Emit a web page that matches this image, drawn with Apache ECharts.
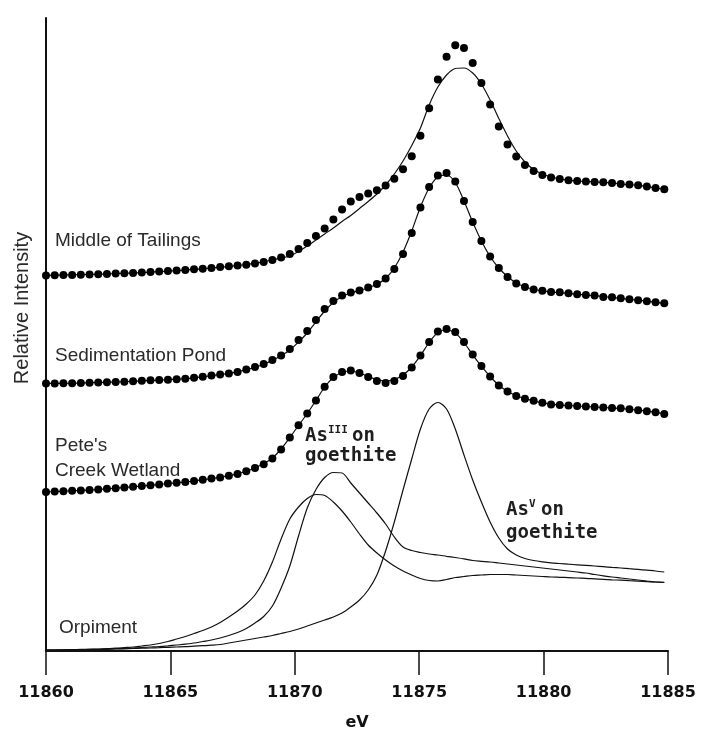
<!DOCTYPE html>
<html>
<head>
<meta charset="utf-8">
<script src="https://cdn.jsdelivr.net/npm/echarts@6/dist/echarts.min.js"></script>
<style>
  html, body { margin: 0; padding: 0; background: #fff; }
  #chart { width: 701px; height: 740px; }
</style>
</head>
<body>
<div id="chart"></div>
<script>
// Energy grid of the As K-edge XANES scans (eV)
const energy = [
  11860, 11860.35, 11860.7, 11861.05, 11861.4, 11861.75, 11862.1, 11862.45, 11862.8, 11863.15,
  11863.5, 11863.85, 11864.2, 11864.55, 11864.9, 11865.25, 11865.6, 11865.95, 11866.3, 11866.65,
  11867, 11867.35, 11867.7, 11868.05, 11868.4, 11868.75, 11869.1, 11869.45, 11869.8, 11870.15,
  11870.5, 11870.85, 11871.2, 11871.55, 11871.9, 11872.25, 11872.6, 11872.95, 11873.3, 11873.65,
  11874, 11874.35, 11874.7, 11875.05, 11875.4, 11875.75, 11876.1, 11876.45, 11876.8, 11877.15,
  11877.5, 11877.85, 11878.2, 11878.55, 11878.9, 11879.25, 11879.6, 11879.95, 11880.3, 11880.65,
  11881, 11881.35, 11881.7, 11882.05, 11882.4, 11882.75, 11883.1, 11883.45, 11883.8, 11884.15,
  11884.5, 11884.85
];

// Middle of Tailings: measured spectrum and linear-combination fit (offset stack)
const tailingsData = [
  3.755, 3.758, 3.76, 3.76, 3.763, 3.765, 3.768, 3.77, 3.774, 3.777,
  3.78, 3.785, 3.79, 3.795, 3.8, 3.805, 3.81, 3.817, 3.822, 3.83,
  3.84, 3.847, 3.855, 3.862, 3.875, 3.89, 3.91, 3.934, 3.97, 4.02,
  4.08, 4.15, 4.225, 4.315, 4.415, 4.495, 4.54, 4.575, 4.607, 4.656,
  4.723, 4.817, 4.947, 5.152, 5.427, 5.714, 5.942, 6.057, 6.03, 5.88,
  5.68, 5.465, 5.245, 5.065, 4.945, 4.86, 4.8, 4.76, 4.735, 4.72,
  4.708, 4.7, 4.695, 4.69, 4.687, 4.68, 4.67, 4.665, 4.657, 4.645,
  4.63, 4.617
];
const tailingsFit = [
  3.755, 3.758, 3.76, 3.762, 3.764, 3.766, 3.768, 3.771, 3.774, 3.777,
  3.78, 3.784, 3.789, 3.794, 3.799, 3.804, 3.81, 3.816, 3.822, 3.83,
  3.838, 3.846, 3.855, 3.865, 3.877, 3.892, 3.91, 3.93, 3.95, 3.995,
  4.05, 4.11, 4.17, 4.23, 4.295, 4.355, 4.425, 4.495, 4.57, 4.66,
  4.77, 4.9, 5.055, 5.23, 5.46, 5.64, 5.76, 5.825, 5.83, 5.78,
  5.67, 5.51, 5.325, 5.15, 5.0, 4.89, 4.815, 4.77, 4.74, 4.72,
  4.708, 4.7, 4.695, 4.69, 4.687, 4.68, 4.67, 4.665, 4.657, 4.645,
  4.63, 4.617
];

// Sedimentation Pond
const pondData = [
  2.675, 2.675, 2.677, 2.678, 2.68, 2.682, 2.685, 2.687, 2.69, 2.693,
  2.697, 2.702, 2.707, 2.71, 2.713, 2.717, 2.723, 2.732, 2.743, 2.754,
  2.764, 2.775, 2.79, 2.815, 2.84, 2.87, 2.91, 2.955, 3.02, 3.11,
  3.2, 3.31, 3.42, 3.5, 3.555, 3.585, 3.605, 3.635, 3.67, 3.725,
  3.82, 3.97, 4.18, 4.435, 4.64, 4.755, 4.78, 4.695, 4.5, 4.29,
  4.1, 3.945, 3.83, 3.74, 3.675, 3.64, 3.615, 3.602, 3.59, 3.587,
  3.577, 3.567, 3.56, 3.554, 3.54, 3.537, 3.527, 3.517, 3.508, 3.498,
  3.487, 3.478
];
const pondFit = [
  2.675, 2.676, 2.677, 2.678, 2.68, 2.682, 2.684, 2.687, 2.69, 2.693,
  2.697, 2.701, 2.705, 2.709, 2.713, 2.718, 2.724, 2.732, 2.742, 2.753,
  2.764, 2.776, 2.792, 2.813, 2.838, 2.868, 2.906, 2.952, 3.01, 3.09,
  3.18, 3.29, 3.4, 3.485, 3.545, 3.58, 3.605, 3.632, 3.668, 3.725,
  3.83, 3.99, 4.2, 4.44, 4.63, 4.74, 4.76, 4.685, 4.5, 4.29,
  4.1, 3.945, 3.83, 3.745, 3.68, 3.642, 3.615, 3.602, 3.59, 3.584,
  3.577, 3.568, 3.56, 3.553, 3.544, 3.536, 3.527, 3.517, 3.508, 3.498,
  3.487, 3.478
];

// Pete's Creek Wetland
const wetlandData = [
  1.59, 1.594, 1.598, 1.602, 1.606, 1.61, 1.616, 1.622, 1.628, 1.635,
  1.642, 1.65, 1.658, 1.666, 1.674, 1.682, 1.69, 1.7, 1.713, 1.724,
  1.736, 1.753, 1.77, 1.797, 1.83, 1.867, 1.924, 2.016, 2.134, 2.258,
  2.376, 2.505, 2.643, 2.74, 2.79, 2.804, 2.78, 2.74, 2.7, 2.68,
  2.7, 2.75, 2.835, 2.955, 3.09, 3.195, 3.22, 3.19, 3.09, 2.965,
  2.85, 2.745, 2.655, 2.595, 2.55, 2.523, 2.502, 2.482, 2.466, 2.46,
  2.455, 2.45, 2.446, 2.44, 2.436, 2.43, 2.427, 2.417, 2.408, 2.398,
  2.387, 2.37
];
const wetlandFit = [
  1.59, 1.594, 1.598, 1.602, 1.606, 1.61, 1.616, 1.622, 1.628, 1.635,
  1.642, 1.65, 1.658, 1.666, 1.674, 1.682, 1.69, 1.7, 1.712, 1.724,
  1.737, 1.753, 1.772, 1.798, 1.832, 1.872, 1.93, 2.02, 2.135, 2.255,
  2.375, 2.505, 2.64, 2.735, 2.785, 2.8, 2.78, 2.745, 2.715, 2.7,
  2.715, 2.76, 2.84, 2.955, 3.085, 3.185, 3.21, 3.18, 3.085, 2.962,
  2.848, 2.745, 2.658, 2.597, 2.552, 2.523, 2.502, 2.483, 2.468, 2.46,
  2.455, 2.45, 2.445, 2.44, 2.435, 2.43, 2.425, 2.417, 2.408, 2.398,
  2.386, 2.372
];

// Reference compounds
const orpiment = [
  0.01, 0.01, 0.012, 0.014, 0.016, 0.018, 0.02, 0.024, 0.028, 0.034,
  0.04, 0.05, 0.06, 0.075, 0.095, 0.12, 0.145, 0.175, 0.205, 0.24,
  0.285, 0.34, 0.4, 0.47, 0.56, 0.7, 0.89, 1.12, 1.32, 1.44,
  1.525, 1.565, 1.555, 1.49, 1.4, 1.29, 1.17, 1.06, 0.98, 0.91,
  0.85, 0.8, 0.76, 0.725, 0.705, 0.7, 0.715, 0.735, 0.745, 0.755,
  0.76, 0.765, 0.765, 0.765, 0.76, 0.755, 0.75, 0.745, 0.74, 0.737,
  0.734, 0.73, 0.727, 0.722, 0.717, 0.712, 0.708, 0.703, 0.699, 0.694,
  0.69, 0.686
];
const as3Goethite = [
  0.01, 0.01, 0.01, 0.012, 0.013, 0.015, 0.017, 0.02, 0.023, 0.026,
  0.03, 0.035, 0.04, 0.045, 0.052, 0.06, 0.068, 0.08, 0.095, 0.11,
  0.13, 0.155, 0.185, 0.225, 0.28, 0.345, 0.45, 0.63, 0.85, 1.15,
  1.43, 1.615, 1.735, 1.785, 1.78, 1.68, 1.58, 1.48, 1.38, 1.27,
  1.14, 1.04, 1.005, 0.985, 0.97, 0.96, 0.947, 0.935, 0.922, 0.905,
  0.897, 0.89, 0.88, 0.87, 0.86, 0.85, 0.84, 0.83, 0.82, 0.81,
  0.8, 0.79, 0.78, 0.765, 0.752, 0.74, 0.73, 0.72, 0.71, 0.7,
  0.69, 0.685
];
const as5Goethite = [
  0.01, 0.01, 0.01, 0.01, 0.012, 0.013, 0.015, 0.017, 0.02, 0.022,
  0.025, 0.028, 0.03, 0.033, 0.037, 0.04, 0.043, 0.048, 0.053, 0.058,
  0.065, 0.08, 0.095, 0.11, 0.125, 0.14, 0.155, 0.175, 0.195, 0.22,
  0.25, 0.28, 0.31, 0.34, 0.38, 0.44, 0.51, 0.61, 0.76, 1.0,
  1.29, 1.61, 1.92, 2.22, 2.42, 2.485, 2.42, 2.22, 1.96, 1.71,
  1.49, 1.29, 1.13, 1.02, 0.96, 0.925, 0.905, 0.892, 0.882, 0.875,
  0.868, 0.862, 0.856, 0.85, 0.843, 0.836, 0.83, 0.823, 0.816, 0.808,
  0.8, 0.79
];

const ink = '#111';
const pairs = ys => energy.map((e, i) => [e, ys[i]]);

function fitLine(name, ys) {
  return {
    name, type: 'line', data: pairs(ys), showSymbol: false, smooth: 0.3,
    lineStyle: { color: ink, width: 1.2 }, silent: true, z: 2
  };
}
function points(name, ys) {
  return {
    name, type: 'scatter', data: pairs(ys), symbol: 'circle', symbolSize: 8,
    itemStyle: { color: '#000', opacity: 1 }, silent: true, z: 3
  };
}

const sansLabel = { fontFamily: '"Liberation Sans", Arial, sans-serif', fontSize: 19, fill: '#2a2a2a' };
const monoLabel = { fontFamily: '"DejaVu Sans Mono", monospace', fontSize: 19, fontWeight: 'bold', fill: '#1e1e1e' };
const supLabel = { fontFamily: '"DejaVu Sans Mono", monospace', fontSize: 11, fontWeight: 'bold', fill: '#1e1e1e' };

function txt(x, y, text, base) {
  return { type: 'text', x, y, silent: true,
    style: Object.assign({ text, align: 'left', verticalAlign: 'middle' }, base) };
}

const chart = echarts.init(document.getElementById('chart'), null, { renderer: 'canvas' });
chart.setOption({
  animation: false,
  backgroundColor: '#fff',
  grid: { left: 46, right: 33, top: 18, bottom: 89 },
  xAxis: {
    type: 'value', min: 11860, max: 11885, interval: 5,
    name: 'eV', nameLocation: 'middle', nameGap: 64,
    nameTextStyle: { fontFamily: '"DejaVu Sans", sans-serif', fontWeight: 'bold', fontSize: 16, color: '#111' },
    axisLine: { show: true, onZero: false, lineStyle: { color: ink, width: 2 } },
    axisTick: { show: true, inside: false, length: 24, lineStyle: { color: ink, width: 1.5 } },
    axisLabel: {
      margin: 34, showMinLabel: true, showMaxLabel: true,
      formatter: v => String(v),
      fontFamily: '"DejaVu Sans", sans-serif', fontWeight: 'bold', fontSize: 16, color: '#111'
    },
    splitLine: { show: false }
  },
  yAxis: {
    type: 'value', min: 0, max: 6.33,
    axisLine: { show: true, onZero: false, lineStyle: { color: ink, width: 2 } },
    axisTick: { show: false }, axisLabel: { show: false }, splitLine: { show: false }
  },
  series: [
    fitLine('Orpiment', orpiment),
    fitLine('As(III) on goethite', as3Goethite),
    fitLine('As(V) on goethite', as5Goethite),
    fitLine("Pete's Creek Wetland fit", wetlandFit),
    points("Pete's Creek Wetland", wetlandData),
    fitLine('Sedimentation Pond fit', pondFit),
    points('Sedimentation Pond', pondData),
    fitLine('Middle of Tailings fit', tailingsFit),
    points('Middle of Tailings', tailingsData)
  ],
  graphic: [
    { type: 'text', x: 22, y: 308, rotation: Math.PI / 2, silent: true,
      style: Object.assign({ text: 'Relative Intensity', align: 'center', verticalAlign: 'middle' }, sansLabel, { fontSize: 20 }) },
    txt(55, 241, 'Middle of Tailings', sansLabel),
    txt(55, 356, 'Sedimentation Pond', sansLabel),
    txt(55, 446, "Pete's", sansLabel),
    txt(55, 471, 'Creek Wetland', sansLabel),
    txt(59, 628, 'Orpiment', sansLabel),
    txt(305, 436, 'As', monoLabel),
    txt(328, 430, 'III', supLabel),
    txt(352, 436, 'on', monoLabel),
    txt(305, 456, 'goethite', monoLabel),
    txt(506, 510, 'As', monoLabel),
    txt(529, 504, 'V', supLabel),
    txt(541, 510, 'on', monoLabel),
    txt(506, 533, 'goethite', monoLabel)
  ]
});
</script>
</body>
</html>
